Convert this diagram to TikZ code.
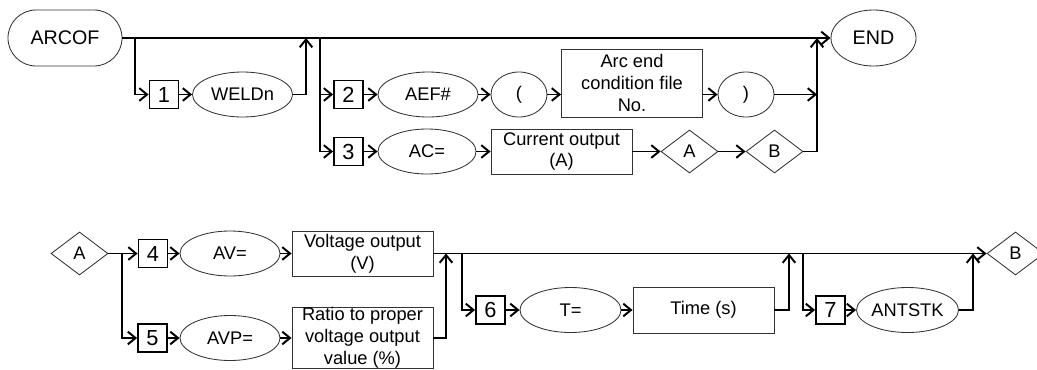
\documentclass[tikz,border=0pt]{standalone}
\usepackage{fontspec}
\setmainfont{Liberation Sans}
\usetikzlibrary{positioning,arrows.meta,shapes.geometric}

\tikzset{
  flow/.style={line width=1.4pt,->},
  shp/.style={draw=black!80,line width=0.6pt,inner sep=0pt,font=\fontsize{13}{15.5}\selectfont,align=center},
  numbox/.style={draw,line width=1.3pt,inner sep=0pt,minimum width=0.725cm,minimum height=0.7cm,font=\fontsize{15.5}{17}\selectfont},
  keyell/.style={shp,ellipse,minimum width=2.5cm,minimum height=1.125cm},
  parell/.style={shp,ellipse,minimum width=1.4cm,minimum height=1.125cm},
  valbox/.style={shp,rectangle,minimum width=3.525cm,minimum height=1.125cm},
  jumpdia/.style={shp,diamond,minimum width=1.425cm,minimum height=1.075cm}
}

\begin{document}
\begin{tikzpicture}[x=0.025cm,y=-0.025cm,>={Straight Barb[length=5.5pt,width=9pt]}]
\useasboundingbox (0,0) rectangle (1037,369);

% upper chart
\node[shp,rectangle,rounded corners=0.7cm,minimum width=2.85cm,minimum height=1.4cm,font=\fontsize{14}{16}\selectfont] (arcof) at (65,38) {ARCOF};
\node[shp,ellipse,minimum width=2.125cm,minimum height=1.4cm,font=\fontsize{14}{16}\selectfont] (end) at (873.5,38) {END};

\node[numbox] (n1) at (164,94.5) {1};
\node[keyell] (weld) at (242.5,94.5) {WELDn};

\node[numbox] (n2) at (348.5,94.5) {2};
\node[keyell] (aef) at (428,94.5) {AEF\#};
\node[parell] (lpar) at (519,94.5) {(};
\node[valbox,minimum height=1.7cm] (arcfile) at (632,83) {Arc end\\condition file\\No.};
\node[parell] (rpar) at (746,94.5) {)};

\node[numbox] (n3) at (348.5,151.5) {3};
\node[keyell,minimum width=2.45cm] (ac) at (427,151.5) {AC=};
\node[valbox] (curout) at (561.5,151.5) {Current output\\(A)};
\node[jumpdia] (ajump) at (689.5,151.5) {A};
\node[jumpdia] (bjump) at (774.5,151.5) {B};

\coordinate (b1) at (135,38);
\coordinate (m1) at (306,38);
\coordinate (b2) at (320,38);
\coordinate (j2) at (817,94.5);
\coordinate (m2) at (817,38);

\draw[flow] (arcof) -- (end);
\draw[flow] (b1) |- (n1);
\draw[flow] (n1) -- (weld);
\draw[flow] (weld) -| (m1);
\draw[flow] (b2) |- (n2);
\draw[flow] (b2) |- (n3);
\draw[flow] (n2) -- (aef);
\draw[flow] (aef) -- (lpar);
\draw[flow] (lpar) -- (lpar -| arcfile.west);
\draw[flow] (rpar -| arcfile.east) -- (rpar);
\draw[flow] (rpar) -- (j2);
\draw[flow] (n3) -- (ac);
\draw[flow] (ac) -- (curout);
\draw[flow] (curout) -- (ajump);
\draw[flow] (ajump) -- (bjump);
\draw[flow] (bjump) -| (m2);

% lower chart
\node[jumpdia] (astart) at (79.5,253.5) {A};
\node[numbox] (n4) at (153,253.5) {4};
\node[keyell] (av) at (230,253.5) {AV=};
\node[valbox] (volt) at (362.5,253.5) {Voltage output\\(V)};

\node[numbox] (n5) at (152.5,338) {5};
\node[keyell] (avp) at (230,338) {AVP=};
\node[valbox,minimum height=1.525cm] (ratio) at (362.5,338) {Ratio to proper\\voltage output\\value (\%)};

\node[numbox] (n6) at (490.5,310) {6};
\node[keyell,minimum width=2.525cm] (tset) at (570.5,310) {T=};
\node[valbox,minimum height=1.15cm] (time) at (703.5,310) {Time (s)};

\node[numbox] (n7) at (830.5,310) {7};
\node[keyell,minimum width=2.475cm] (ant) at (907.5,310) {ANTSTK};
\node[jumpdia] (bend) at (1015.5,253.5) {B};

\coordinate (b4) at (122,253.5);
\coordinate (m4) at (446,253.5);
\coordinate (b6) at (462,253.5);
\coordinate (m6) at (789,253.5);
\coordinate (b7) at (803,253.5);
\coordinate (m7) at (973,253.5);

\draw[flow] (astart) -- (n4);
\draw[flow] (n4) -- (av);
\draw[flow] (av) -- (volt);
\draw[flow] (volt) -- (bend);
\draw[flow] (b4) |- (n5);
\draw[flow] (n5) -- (avp);
\draw[flow] (avp) -- (ratio);
\draw[flow] (ratio) -| (m4);
\draw[flow] (b6) |- (n6);
\draw[flow] (n6) -- (tset);
\draw[flow] (tset) -- (time);
\draw[flow] (time) -| (m6);
\draw[flow] (b7) |- (n7);
\draw[flow] (n7) -- (ant);
\draw[flow] (ant) -| (m7);
\end{tikzpicture}
\end{document}
